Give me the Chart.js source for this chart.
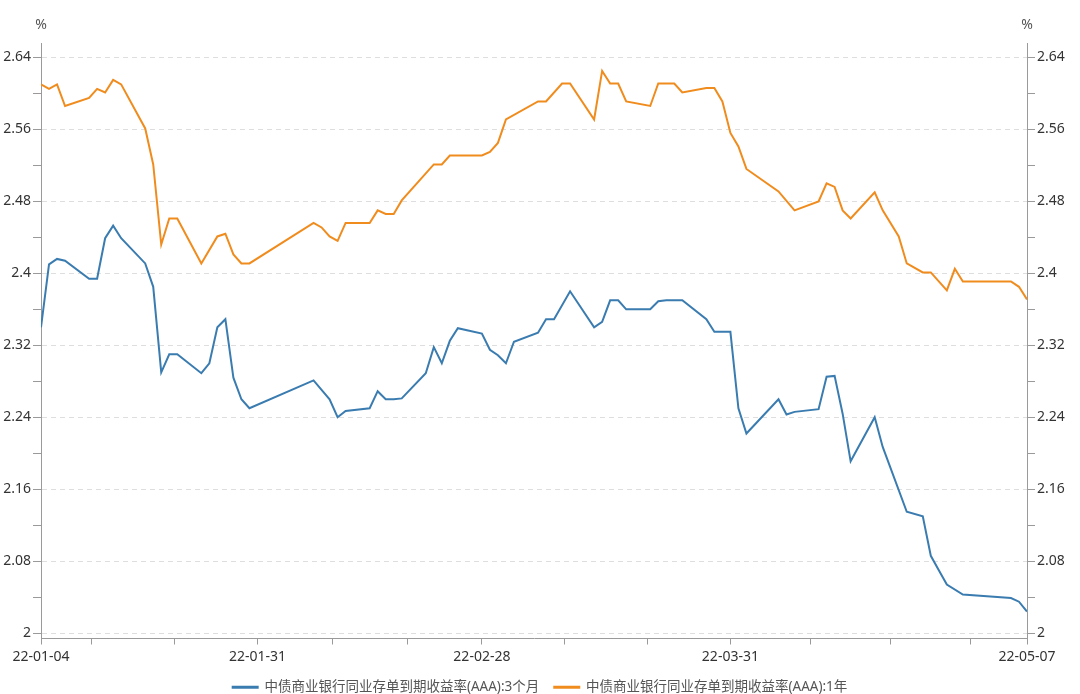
<!DOCTYPE html>
<html>
<head>
<meta charset="utf-8">
<script src="https://cdn.jsdelivr.net/npm/chart.js@4.4.1/dist/chart.umd.min.js"></script>
<style>
  html, body { margin: 0; padding: 0; background: #fff; }
  #wrap { width: 1080px; height: 694px; }
</style>
</head>
<body>
<div id="wrap"><canvas id="chart" width="1080" height="694"></canvas></div>
<script>
// trading days (yy-mm-dd)
const dates = [
  '22-01-04','22-01-05','22-01-06','22-01-07','22-01-10','22-01-11','22-01-12','22-01-13','22-01-14',
  '22-01-17','22-01-18','22-01-19','22-01-20','22-01-21','22-01-24','22-01-25','22-01-26','22-01-27',
  '22-01-28','22-01-29','22-01-30',
  '22-02-07','22-02-08','22-02-09','22-02-10','22-02-11','22-02-14','22-02-15','22-02-16','22-02-17',
  '22-02-18','22-02-21','22-02-22','22-02-23','22-02-24','22-02-25','22-02-28',
  '22-03-01','22-03-02','22-03-03','22-03-04','22-03-07','22-03-08','22-03-09','22-03-10','22-03-11',
  '22-03-14','22-03-15','22-03-16','22-03-17','22-03-18','22-03-21','22-03-22','22-03-23','22-03-24',
  '22-03-25','22-03-28','22-03-29','22-03-30','22-03-31',
  '22-04-01','22-04-02','22-04-06','22-04-07','22-04-08','22-04-11','22-04-12','22-04-13','22-04-14',
  '22-04-15','22-04-18','22-04-19','22-04-20','22-04-21','22-04-22','22-04-24','22-04-25','22-04-26',
  '22-04-27','22-04-28','22-04-29',
  '22-05-05','22-05-06','22-05-07'
];

// 3个月 (null = point hidden on a straight segment)
const rate3m = [
  2.340,2.410,2.416,2.414,2.394,2.394,2.439,2.453,2.439,
  2.411,2.385,2.290,2.310,2.310,2.289,2.300,2.340,2.349,
  2.284,2.260,2.250,
  2.281,null,2.260,2.240,2.247,2.250,2.269,2.260,2.260,
  2.261,2.289,2.318,2.300,2.325,2.339,2.333,
  2.315,2.309,2.300,2.324,2.334,2.349,2.349,null,2.380,
  2.340,2.346,2.370,2.370,2.360,2.360,2.369,2.370,2.370,
  2.370,2.349,2.335,2.335,2.335,
  2.250,2.222,2.260,2.243,2.246,2.249,2.285,2.286,2.244,
  2.191,2.240,2.207,null,null,2.135,2.130,2.086,2.070,
  2.054,null,2.043,
  2.039,2.035,2.024
];

// 1年
const rate1y = [
  2.610,2.605,2.610,2.586,2.595,2.605,2.601,2.615,2.610,
  2.561,2.521,2.432,2.461,2.461,2.411,null,2.441,2.444,
  2.421,2.411,2.411,
  2.456,2.451,2.441,2.436,2.456,2.456,2.470,2.466,2.466,
  2.481,null,2.521,2.521,2.531,2.531,2.531,
  2.535,2.545,2.571,null,2.591,2.591,null,2.611,2.611,
  2.571,2.625,2.611,2.611,2.591,2.586,2.611,2.611,2.611,
  2.601,2.606,2.606,2.591,2.556,
  2.541,2.516,2.491,null,2.470,2.480,2.500,2.496,2.470,
  2.461,2.490,2.470,null,2.441,2.411,2.401,2.401,null,
  2.381,2.405,2.391,
  2.391,2.385,2.371
];

const seriesNames = ['中债商业银行同业存单到期收益率(AAA):3个月', '中债商业银行同业存单到期收益率(AAA):1年'];
const seriesColors = ['#3a7cb0', '#f08c1e'];

// axis ticks
const xTickLabels = ['22-01-04', '22-01-31', '22-02-28', '22-03-31', '22-05-07'];
const monthEnds = ['21-12-31', '22-01-31', '22-02-28', '22-03-31', '22-04-30', '22-05-31'];
const yTicks = [2, 2.04, 2.08, 2.12, 2.16, 2.2, 2.24, 2.28, 2.32, 2.36, 2.4, 2.44, 2.48, 2.52, 2.56, 2.6, 2.64];

// day offset from the first date
function dayOf(s) {
    const p = s.split('-');
    return (Date.UTC(2000 + (+p[0]), +p[1] - 1, +p[2]) - Date.UTC(2022, 0, 4)) / 864e5;
}
const xMax = dayOf(dates[dates.length - 1]);

const pts = (arr) => dates.map((d, i) => ({x: dayOf(d), y: arr[i]}));

// x ticks: month ends and thirds between
let xTicks = [0, xMax];
for (let i = 0; i < monthEnds.length - 1; i++) {
    const a = dayOf(monthEnds[i]), b = dayOf(monthEnds[i + 1]);
    [a, a + (b - a) / 3, a + 2 * (b - a) / 3].forEach(v => {
        if (v > 0.5 && v < xMax - 0.5) xTicks.push(v);
    });
}
xTicks.sort((a, b) => a - b);

const FONT = "'Noto Sans', 'Noto Sans CJK SC', sans-serif";
const AXIS = '#9a9a9a';

function yAxis(pos) {
    return {
        type: 'linear',
        position: pos,
        min: 1.9941,
        max: 2.656,
        afterBuildTicks: (s) => { s.ticks = yTicks.map(v => ({value: v})); },
        afterFit: (s) => { s.width = pos === 'left' ? 41 : 53; },
        ticks: {
            padding: 2,
            color: '#333',
            font: {family: FONT, size: 14},
            callback: (v, i) => (i % 2 === 0 ? String(+v.toFixed(2)) : '')
        },
        grid: {
            drawOnChartArea: pos === 'left',
            color: (c) => (c.index % 2 === 0 ? '#dedede' : 'rgba(0,0,0,0)'),
            lineWidth: 1,
            tickColor: AXIS,
            tickLength: 8,
            tickBorderDash: []
        },
        border: {display: true, color: AXIS, width: 1, dash: [5, 4]}
    };
}

// "%" unit over both axes
const unitPlugin = {
    id: 'unit',
    afterDraw(chart) {
        const ctx = chart.ctx, a = chart.chartArea;
        ctx.save();
        ctx.fillStyle = '#555';
        ctx.font = '14px ' + FONT;
        ctx.textAlign = 'center';
        ctx.textBaseline = 'middle';
        ctx.fillText('%', a.left, 25);
        ctx.fillText('%', a.right, 25);
        ctx.restore();
    }
};

new Chart(document.getElementById('chart'), {
    type: 'line',
    data: {
        datasets: [rate3m, rate1y].map((arr, i) => ({
            label: seriesNames[i],
            data: pts(arr),
            borderColor: seriesColors[i],
            backgroundColor: seriesColors[i],
            borderWidth: 2,
            pointRadius: 0,
            tension: 0,
            spanGaps: true,
            yAxisID: i === 0 ? 'y' : 'y2'
        }))
    },
    options: {
        responsive: false,
        animation: false,
        events: [],
        layout: {padding: {top: 43, left: 0, right: 0, bottom: -10}},
        plugins: {
            legend: {
                position: 'bottom',
                labels: {
                    boxWidth: 25,
                    boxHeight: 1,
                    padding: 15,
                    color: '#555',
                    font: {family: FONT, size: 13.5}
                }
            },
            tooltip: {enabled: false}
        },
        scales: {
            x: {
                type: 'linear',
                min: 0,
                max: xMax,
                afterBuildTicks: (s) => { s.ticks = xTicks.map(v => ({value: v})); },
                afterFit: (s) => { s.height = 27; },
                ticks: {
                    autoSkip: false,
                    maxRotation: 0,
                    padding: 4,
                    color: '#333',
                    font: {family: FONT, size: 14},
                    callback: (v) => {
                        const hit = xTickLabels.find(l => Math.abs(dayOf(l) - v) < 0.01);
                        return hit || '';
                    }
                },
                grid: {drawOnChartArea: false, tickColor: AXIS, tickLength: 6},
                border: {color: AXIS}
            },
            y: yAxis('left'),
            y2: yAxis('right')
        }
    },
    plugins: [unitPlugin]
});
</script>
</body>
</html>
